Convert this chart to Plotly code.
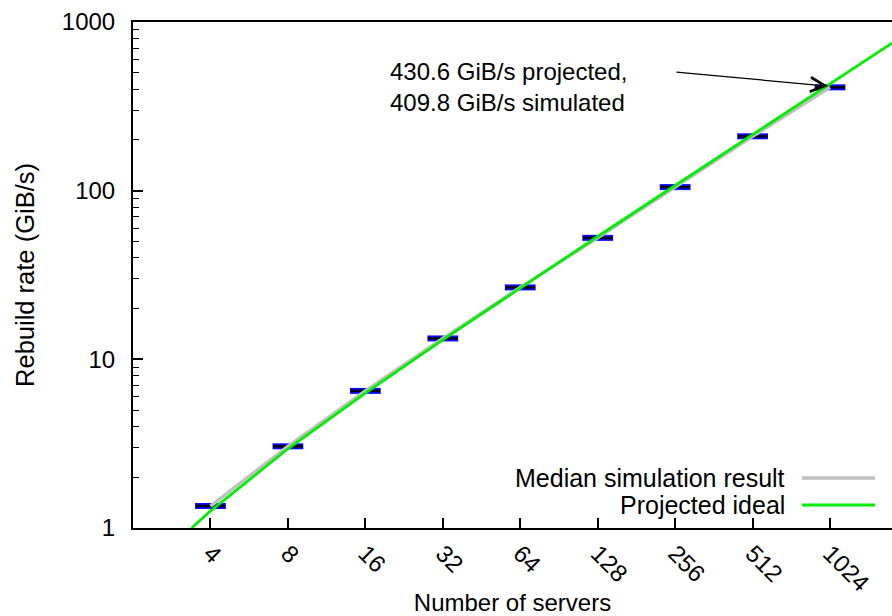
import plotly.graph_objects as go
import math

# ---- data ----
servers = [4, 8, 16, 32, 64, 128, 256, 512, 1024]
tick_labels = ["4", "8", "16", "32", "64", "128", "256", "512", "1024"]
median_rate = [1.35, 3.05, 6.5, 13.3, 26.7, 52.5, 105, 210, 409.8]

ideal_servers = [3.38, 4, 8, 16, 32, 64, 128, 256, 512, 1024, 1783]
ideal_rate = [1.0, 1.26, 2.95, 6.31, 13.05, 26.5, 53.5, 107.3, 215, 430.6, 750]

FONT = "Liberation Sans, Arial, Helvetica, sans-serif"
FS = 24

fig = go.Figure()

# median markers (blue outline, black core)
fig.add_trace(go.Scatter(
    x=servers, y=median_rate, mode="markers",
    marker=dict(symbol="line-ew", size=22, line=dict(color="#0a0aff", width=6)),
    showlegend=False, hoverinfo="skip"))
fig.add_trace(go.Scatter(
    x=servers, y=median_rate, mode="markers",
    marker=dict(symbol="line-ew", size=21, line=dict(color="#000010", width=2.5)),
    showlegend=False, hoverinfo="skip"))

# median simulation result line
fig.add_trace(go.Scatter(
    x=servers, y=median_rate, mode="lines",
    line=dict(color="#c0c0c0", width=3.5),
    name="Median simulation result", showlegend=False))

# projected ideal line
fig.add_trace(go.Scatter(
    x=ideal_servers, y=ideal_rate, mode="lines",
    line=dict(color="#00ee00", width=2.8),
    name="Projected ideal", showlegend=False))

minor_vals = [m * 10 ** d for d in range(0, 3) for m in range(2, 10)]

fig.update_layout(
    width=892, height=616,
    margin=dict(l=133, r=0, t=22, b=88),
    plot_bgcolor="white", paper_bgcolor="white",
    font=dict(family=FONT, size=FS, color="black"),
    xaxis=dict(
        type="log",
        range=[math.log10(2), math.log10(2 ** 10.8)],
        tickvals=servers, ticktext=tick_labels, tickangle=45,
        ticks="inside", ticklen=10, tickwidth=1.5, tickcolor="black",
        showline=True, linewidth=2, linecolor="black", mirror=True,
        showgrid=False, zeroline=False,
        tickfont=dict(family=FONT, size=FS),
        title=dict(text="Number of servers", font=dict(family=FONT, size=FS), standoff=4),
    ),
    yaxis=dict(
        type="log",
        range=[0, 3],
        tickvals=[1, 10, 100, 1000], ticktext=["1", "10", "100", "1000"],
        ticks="inside", ticklen=10, tickwidth=1.5, tickcolor="black",
        ticklabelstandoff=11,
        minor=dict(ticks="inside", ticklen=6, tickwidth=1.2, tickcolor="black",
                   tickvals=minor_vals, showgrid=False),
        showline=True, linewidth=2, linecolor="black", mirror=False,
        showgrid=False, zeroline=False,
        tickfont=dict(family=FONT, size=FS),
        title=dict(text="Rebuild rate (GiB/s)", font=dict(family=FONT, size=25.5), standoff=20),
    ),
)

# annotation with arrow pointing at the 1024-server result
fig.add_annotation(
    x=math.log10(1005), y=math.log10(417), xref="x", yref="y",
    ax=-153, ay=-14, text="", showarrow=True,
    arrowhead=5, arrowsize=2.2, arrowwidth=1.3, arrowcolor="black")

def py(ypix):
    return 1 - (ypix - 22) / (528 - 22)

def px(xpix):
    return (xpix - 133) / (892 - 133)

fig.add_annotation(
    x=px(388), y=py(87),
    xref="paper", yref="paper", xanchor="left", yanchor="middle",
    align="left", showarrow=False,
    text="430.6 GiB/s projected,<br>409.8 GiB/s simulated",
    font=dict(family=FONT, size=FS))

# legend (text right-aligned, sample line on the right)
legend_items = [("Median simulation result", "#c0c0c0", 3.5, 478),
                ("Projected ideal", "#00ee00", 2.8, 505)]
for label, color, w, ypix in legend_items:
    fig.add_annotation(x=px(787), y=py(ypix), xref="paper", yref="paper",
                       xanchor="right", yanchor="middle", showarrow=False,
                       text=label, font=dict(family=FONT, size=25))
    fig.add_shape(type="line", xref="paper", yref="paper",
                  x0=px(802), x1=px(875), y0=py(ypix), y1=py(ypix),
                  line=dict(color=color, width=w))

fig.write_html("out.html")
